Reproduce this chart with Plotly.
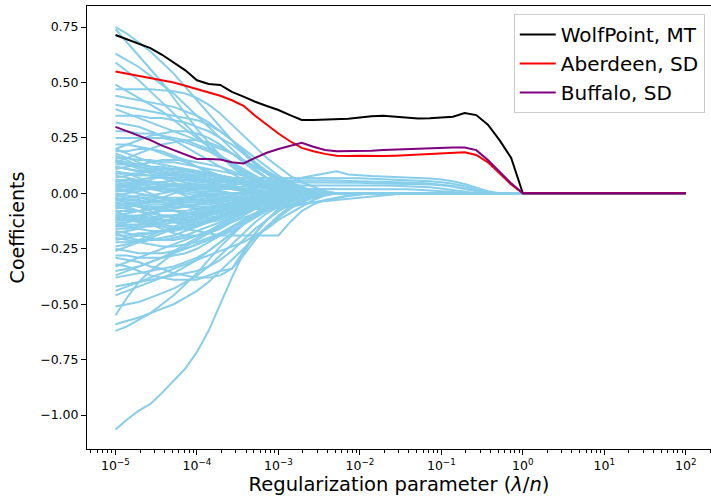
import plotly.graph_objects as go

# regularization grid (lambda / n)
lam = [1.000e-05, 1.389e-05, 1.931e-05, 2.683e-05, 3.728e-05, 5.179e-05, 7.197e-05,
       1.000e-04, 1.389e-04, 1.931e-04, 2.683e-04, 3.728e-04, 5.179e-04, 7.197e-04,
       1.000e-03, 1.389e-03, 1.931e-03, 2.683e-03, 3.728e-03, 5.179e-03, 7.197e-03,
       1.000e-02, 1.389e-02, 1.931e-02, 2.683e-02, 3.728e-02, 5.179e-02, 7.197e-02,
       1.000e-01, 1.389e-01, 1.931e-01, 2.683e-01, 3.728e-01, 5.179e-01, 7.197e-01,
       1.000e+00, 1.389e+00, 1.931e+00, 2.683e+00, 3.728e+00, 5.179e+00, 7.197e+00,
       1.000e+01, 1.389e+01, 1.931e+01, 2.683e+01, 3.728e+01, 5.179e+01, 7.197e+01,
       1.000e+02]

# highlighted stations (values until they reach zero; zero afterwards)
wolf_point = [0.714, 0.695, 0.675, 0.655, 0.625, 0.59, 0.555, 0.51, 0.493, 0.489, 0.458,
              0.436, 0.413, 0.394, 0.376, 0.353, 0.331, 0.331, 0.332, 0.334, 0.336, 0.342,
              0.348, 0.35, 0.346, 0.341, 0.338, 0.339, 0.341, 0.346, 0.362, 0.353, 0.31,
              0.24, 0.16, 0.0]
aberdeen = [0.55, 0.54, 0.53, 0.52, 0.51, 0.50, 0.485, 0.47, 0.455, 0.44, 0.42, 0.395,
            0.35, 0.31, 0.27, 0.235, 0.205, 0.19, 0.178, 0.17, 0.168, 0.17, 0.168, 0.168,
            0.17, 0.172, 0.175, 0.177, 0.179, 0.182, 0.185, 0.173, 0.14, 0.09, 0.04, 0.0]
buffalo = [0.30, 0.28, 0.26, 0.24, 0.215, 0.195, 0.175, 0.155, 0.155, 0.153, 0.14, 0.135,
           0.16, 0.183, 0.20, 0.215, 0.228, 0.21, 0.196, 0.19, 0.19, 0.192, 0.192, 0.195,
           0.197, 0.20, 0.203, 0.204, 0.205, 0.207, 0.207, 0.195, 0.15, 0.097, 0.045, 0.0]

# all other stations
others = [
    # upper
    [0.75, 0.72, 0.68, 0.64, 0.59, 0.54, 0.48, 0.42, 0.36, 0.30, 0.24, 0.18, 0.13, 0.09, 0.05, 0.03, 0.01],
    [0.74, 0.68, 0.62, 0.56, 0.50, 0.43, 0.36, 0.29, 0.23, 0.17, 0.12, 0.08, 0.05, 0.03, 0.01],
    [0.63, 0.60, 0.57, 0.53, 0.49, 0.45, 0.40, 0.35, 0.30, 0.25, 0.20, 0.15, 0.11, 0.07, 0.04, 0.02],
    [0.59, 0.55, 0.51, 0.46, 0.41, 0.36, 0.31, 0.26, 0.21, 0.17, 0.13, 0.09, 0.06, 0.03, 0.01],
    [0.47, 0.47, 0.47, 0.47, 0.465, 0.46, 0.45, 0.43, 0.40, 0.36, 0.31, 0.26, 0.21, 0.16, 0.12, 0.08, 0.05, 0.03, 0.01],
    [0.49, 0.46, 0.43, 0.40, 0.37, 0.33, 0.29, 0.25, 0.21, 0.17, 0.13, 0.10, 0.07, 0.04, 0.02],
    [0.44, 0.43, 0.42, 0.41, 0.40, 0.39, 0.37, 0.35, 0.32, 0.28, 0.24, 0.20, 0.16, 0.12, 0.08, 0.05, 0.03, 0.01],
    [0.40, 0.39, 0.38, 0.37, 0.36, 0.35, 0.34, 0.33, 0.31, 0.28, 0.24, 0.19, 0.14, 0.10, 0.07, 0.04, 0.02],
    [0.38, 0.36, 0.34, 0.32, 0.30, 0.28, 0.26, 0.24, 0.22, 0.20, 0.18, 0.15, 0.12, 0.09, 0.06, 0.03, 0.01],
    [0.35, 0.35, 0.35, 0.34, 0.34, 0.33, 0.32, 0.30, 0.28, 0.25, 0.22, 0.18, 0.14, 0.10, 0.07, 0.04, 0.02],
    [0.32, 0.31, 0.30, 0.28, 0.26, 0.24, 0.21, 0.18, 0.15, 0.12, 0.09, 0.06, 0.04, 0.02],
    [0.28, 0.28, 0.27, 0.27, 0.26, 0.25, 0.24, 0.22, 0.20, 0.17, 0.14, 0.11, 0.08, 0.05, 0.03, 0.01],
    [0.25, 0.25, 0.25, 0.25, 0.25, 0.24, 0.23, 0.21, 0.19, 0.16, 0.13, 0.10, 0.07, 0.05, 0.03, 0.01],
    [0.20, 0.22, 0.24, 0.26, 0.27, 0.28, 0.28, 0.27, 0.25, 0.22, 0.18, 0.14, 0.10, 0.07, 0.04, 0.02],
    [0.14, 0.16, 0.18, 0.20, 0.22, 0.23, 0.24, 0.24, 0.23, 0.21, 0.18, 0.15, 0.12, 0.09, 0.06, 0.04, 0.02, 0.01],
    # dense centre
    [0.22, 0.22, 0.21, 0.20, 0.18, 0.16, 0.14, 0.12, 0.10, 0.08, 0.06, 0.04, 0.03, 0.02, 0.01],
    [0.20, 0.18, 0.16, 0.14, 0.13, 0.12, 0.11, 0.10, 0.09, 0.08, 0.07, 0.05, 0.04, 0.03, 0.02, 0.01],
    [0.19, 0.19, 0.20, 0.20, 0.19, 0.17, 0.15, 0.12, 0.09, 0.06, 0.04, 0.02, 0.01],
    [0.17, 0.15, 0.12, 0.10, 0.08, 0.06, 0.05, 0.04, 0.04, 0.03, 0.03, 0.02, 0.02, 0.01],
    [0.16, 0.16, 0.15, 0.15, 0.14, 0.14, 0.13, 0.12, 0.11, 0.10, 0.09, 0.08, 0.06, 0.05, 0.04, 0.03, 0.02, 0.01],
    [0.15, 0.13, 0.11, 0.09, 0.07, 0.05, 0.03, 0.01, -0.01, -0.02, -0.02, -0.02, -0.01],
    [0.13, 0.13, 0.12, 0.11, 0.10, 0.09, 0.08, 0.07, 0.06, 0.05, 0.05, 0.04, 0.04, 0.03, 0.03, 0.02, 0.01],
    [0.12, 0.11, 0.10, 0.10, 0.09, 0.08, 0.07, 0.06, 0.05, 0.04, 0.03, 0.02, 0.01],
    [0.11, 0.12, 0.13, 0.14, 0.15, 0.15, 0.15, 0.14, 0.13, 0.12, 0.10, 0.08, 0.06, 0.05, 0.04, 0.03, 0.02, 0.01],
    [0.10, 0.09, 0.07, 0.05, 0.03, 0.01, -0.01, -0.03, -0.04, -0.05, -0.05, -0.04, -0.03, -0.02, -0.01],
    [0.09, 0.09, 0.09, 0.08, 0.08, 0.08, 0.07, 0.07, 0.06, 0.06, 0.05, 0.05, 0.04, 0.04, 0.03, 0.03, 0.02, 0.02, 0.01],
    [0.08, 0.07, 0.06, 0.05, 0.05, 0.04, 0.04, 0.03, 0.03, 0.02, 0.02, 0.01],
    [0.07, 0.08, 0.09, 0.10, 0.11, 0.11, 0.11, 0.10, 0.09, 0.08, 0.07, 0.06, 0.05, 0.04, 0.03, 0.02, 0.01],
    [0.06, 0.05, 0.04, 0.03, 0.02, 0.01, 0.0, -0.01, -0.01, -0.01],
    [0.05, 0.06, 0.06, 0.07, 0.07, 0.07, 0.06, 0.06, 0.05, 0.04, 0.03, 0.02, 0.01],
    [0.04, 0.03, 0.02, 0.02, 0.01, 0.01, 0.01],
    [0.03, 0.04, 0.05, 0.06, 0.08, 0.09, 0.10, 0.10, 0.09, 0.08, 0.06, 0.05, 0.04, 0.03, 0.02, 0.01],
    [0.02, 0.01, 0.00, -0.01, -0.02, -0.03, -0.03, -0.03, -0.02, -0.02, -0.01],
    [0.01, 0.02, 0.02, 0.03, 0.03, 0.03, 0.03, 0.02, 0.02, 0.01],
    [0.00, -0.01, -0.02, -0.03, -0.04, -0.05, -0.05, -0.05, -0.04, -0.03, -0.02, -0.01],
    [-0.01, 0.00, 0.01, 0.02, 0.03, 0.04, 0.04, 0.04, 0.03, 0.03, 0.02, 0.01],
    [-0.02, -0.03, -0.03, -0.04, -0.04, -0.04, -0.03, -0.03, -0.02, -0.02, -0.01],
    [-0.03, -0.02, -0.01, -0.01, 0.00, 0.01, 0.02, 0.03, 0.03, 0.02, 0.02, 0.01],
    [-0.04, -0.05, -0.06, -0.07, -0.08, -0.08, -0.08, -0.07, -0.06, -0.05, -0.04, -0.03, -0.02, -0.01],
    [-0.05, -0.05, -0.04, -0.04, -0.03, -0.03, -0.02, -0.02, -0.01],
    [-0.06, -0.07, -0.08, -0.09, -0.10, -0.10, -0.10, -0.09, -0.08, -0.07, -0.06, -0.05, -0.04, -0.03, -0.02, -0.01],
    [-0.07, -0.06, -0.05, -0.03, -0.02, 0.00, 0.01, 0.02, 0.03, 0.03, 0.03, 0.02, 0.02, 0.01],
    [-0.08, -0.08, -0.08, -0.07, -0.07, -0.06, -0.06, -0.05, -0.05, -0.04, -0.03, -0.03, -0.02, -0.01],
    [-0.09, -0.10, -0.11, -0.12, -0.12, -0.12, -0.11, -0.10, -0.08, -0.06, -0.05, -0.03, -0.02, -0.01],
    [-0.10, -0.09, -0.08, -0.07, -0.06, -0.05, -0.04, -0.04, -0.03, -0.03, -0.02, -0.02, -0.01],
    [-0.11, -0.12, -0.13, -0.14, -0.15, -0.16, -0.16, -0.15, -0.13, -0.11, -0.09, -0.07, -0.05, -0.03, -0.02, -0.01],
    [-0.12, -0.11, -0.10, -0.09, -0.08, -0.07, -0.06, -0.05, -0.04, -0.04, -0.03, -0.03, -0.02, -0.02, -0.01],
    [-0.13, -0.13, -0.12, -0.12, -0.11, -0.10, -0.09, -0.08, -0.07, -0.06, -0.05, -0.04, -0.03, -0.02, -0.01],
    [-0.14, -0.15, -0.16, -0.17, -0.17, -0.17, -0.16, -0.14, -0.12, -0.10, -0.08, -0.06, -0.04, -0.03, -0.02, -0.01],
    [-0.15, -0.13, -0.11, -0.09, -0.07, -0.05, -0.03, -0.01, 0.01, 0.02, 0.02, 0.02, 0.01],
    [-0.16, -0.16, -0.15, -0.15, -0.14, -0.13, -0.12, -0.11, -0.10, -0.08, -0.07, -0.05, -0.04, -0.03, -0.02, -0.01],
    [-0.17, -0.18, -0.19, -0.20, -0.21, -0.21, -0.20, -0.19, -0.17, -0.14, -0.11, -0.08, -0.06, -0.04, -0.02, -0.01],
    [-0.18, -0.17, -0.16, -0.14, -0.13, -0.11, -0.10, -0.08, -0.07, -0.06, -0.05, -0.04, -0.03, -0.02, -0.01],
    [-0.19, -0.19, -0.18, -0.18, -0.17, -0.16, -0.15, -0.14, -0.12, -0.10, -0.08, -0.06, -0.05, -0.03, -0.02, -0.01],
    [-0.20, -0.21, -0.22, -0.23, -0.24, -0.24, -0.23, -0.22, -0.20, -0.18, -0.15, -0.12, -0.09, -0.06, -0.04, -0.02, -0.01],
    [-0.21, -0.20, -0.19, -0.18, -0.17, -0.16, -0.15, -0.13, -0.12, -0.10, -0.09, -0.07, -0.05, -0.04, -0.02, -0.01],
    [-0.22, -0.22, -0.22, -0.21, -0.21, -0.20, -0.19, -0.17, -0.15, -0.13, -0.11, -0.09, -0.07, -0.05, -0.03, -0.02, -0.01],
    [-0.24, -0.23, -0.21, -0.19, -0.17, -0.15, -0.13, -0.11, -0.09, -0.07, -0.06, -0.05, -0.04, -0.03, -0.02, -0.01],
    [0.03, 0.03, 0.03, 0.02, 0.02, 0.02, 0.02, 0.01, 0.01, 0.01],
    [-0.03, -0.04, -0.04, -0.05, -0.05, -0.05, -0.04, -0.04, -0.03, -0.03, -0.02, -0.02, -0.01],
    [0.02, 0.03, 0.04, 0.05, 0.05, 0.06, 0.06, 0.05, 0.05, 0.04, 0.03, 0.02, 0.01],
    [-0.01, -0.02, -0.02, -0.02, -0.02, -0.02, -0.02, -0.01, -0.01],
    [0.14, 0.13, 0.13, 0.12, 0.12, 0.11, 0.10, 0.09, 0.08, 0.07, 0.06, 0.05, 0.04, 0.03, 0.02, 0.01],
    [0.18, 0.16, 0.14, 0.12, 0.10, 0.09, 0.08, 0.07, 0.06, 0.05, 0.05, 0.04, 0.04, 0.03, 0.03, 0.02, 0.02, 0.01],
    [-0.04, -0.06, -0.08, -0.10, -0.12, -0.13, -0.14, -0.14, -0.13, -0.12, -0.10, -0.08, -0.06, -0.04, -0.02, -0.01],
    [-0.13, -0.14, -0.14, -0.14, -0.13, -0.12, -0.11, -0.10, -0.09, -0.08, -0.07, -0.06, -0.05, -0.04, -0.03, -0.02, -0.01],
    [-0.06, -0.05, -0.05, -0.06, -0.07, -0.08, -0.09, -0.10, -0.10, -0.09, -0.08, -0.06, -0.04, -0.02, -0.01],
    [-0.02, -0.04, -0.06, -0.08, -0.10, -0.11, -0.12, -0.12, -0.11, -0.10, -0.09, -0.07, -0.05, -0.03, -0.02, -0.01],
    [-0.15, -0.15, -0.14, -0.13, -0.12, -0.12, -0.11, -0.10, -0.09, -0.08, -0.07, -0.06, -0.05, -0.04, -0.03, -0.02, -0.01],
    [-0.18, -0.20, -0.21, -0.21, -0.20, -0.19, -0.17, -0.15, -0.13, -0.11, -0.09, -0.07, -0.05, -0.03, -0.02, -0.01],
    [-0.08, -0.10, -0.12, -0.14, -0.16, -0.18, -0.19, -0.19, -0.18, -0.16, -0.13, -0.10, -0.07, -0.05, -0.03, -0.01],
    [0.05, 0.04, 0.02, 0.00, -0.02, -0.04, -0.06, -0.07, -0.07, -0.06, -0.05, -0.04, -0.03, -0.02, -0.01],
    [-0.11, -0.10, -0.10, -0.11, -0.12, -0.13, -0.13, -0.13, -0.12, -0.11, -0.09, -0.07, -0.05, -0.03, -0.02, -0.01],
    # long-lived small coefficients
    [0.06, 0.06, 0.05, 0.05, 0.04, 0.04, 0.03, 0.03, 0.02, 0.02, 0.02, 0.02, 0.03, 0.03, 0.04, 0.05, 0.07, 0.08, 0.09, 0.10, 0.085, 0.08, 0.078, 0.076, 0.074, 0.072, 0.07, 0.067, 0.062, 0.055, 0.042, 0.025, 0.01],
    [0.12, 0.11, 0.10, 0.10, 0.09, 0.09, 0.08, 0.08, 0.08, 0.08, 0.07, 0.07, 0.07, 0.07, 0.07, 0.07, 0.07, 0.07, 0.07, 0.07, 0.07, 0.068, 0.066, 0.064, 0.062, 0.06, 0.058, 0.055, 0.05, 0.043, 0.032, 0.018, 0.005],
    [0.09, 0.09, 0.08, 0.08, 0.07, 0.07, 0.06, 0.06, 0.06, 0.06, 0.06, 0.06, 0.06, 0.06, 0.06, 0.06, 0.06, 0.06, 0.06, 0.058, 0.056, 0.055, 0.054, 0.053, 0.052, 0.05, 0.048, 0.045, 0.04, 0.033, 0.022, 0.01],
    [0.04, 0.04, 0.04, 0.04, 0.04, 0.04, 0.04, 0.04, 0.04, 0.04, 0.04, 0.045, 0.05, 0.05, 0.05, 0.05, 0.05, 0.05, 0.05, 0.05, 0.05, 0.048, 0.046, 0.045, 0.044, 0.043, 0.042, 0.04, 0.036, 0.03, 0.02, 0.01],
    [0.01, 0.01, 0.02, 0.02, 0.02, 0.02, 0.03, 0.03, 0.03, 0.03, 0.03, 0.03, 0.035, 0.035, 0.035, 0.035, 0.037, 0.038, 0.038, 0.038, 0.038, 0.037, 0.036, 0.035, 0.034, 0.032, 0.03, 0.027, 0.022, 0.015, 0.008],
    [0.15, 0.14, 0.13, 0.12, 0.11, 0.10, 0.09, 0.08, 0.07, 0.06, 0.05, 0.04, 0.03, 0.025, 0.022, 0.02, 0.02, 0.02, 0.02, 0.02, 0.02, 0.02, 0.02, 0.02, 0.019, 0.018, 0.016, 0.014, 0.01, 0.006],
    [-0.05, -0.05, -0.06, -0.06, -0.06, -0.06, -0.06, -0.06, -0.06, -0.06, -0.06, -0.06, -0.06, -0.06, -0.055, -0.05, -0.045, -0.04, -0.035, -0.03, -0.025, -0.02, -0.015, -0.01, -0.005],
    [-0.12, -0.12, -0.11, -0.11, -0.10, -0.10, -0.09, -0.09, -0.08, -0.08, -0.07, -0.07, -0.07, -0.07, -0.065, -0.06, -0.05, -0.04, -0.03, -0.02, -0.012, -0.006],
    [-0.10, -0.11, -0.12, -0.13, -0.14, -0.15, -0.16, -0.17, -0.18, -0.19, -0.19, -0.19, -0.19, -0.19, -0.19, -0.13, -0.08, -0.05, -0.03, -0.02, -0.01],
    # lower
    [-0.25, -0.26, -0.27, -0.27, -0.27, -0.26, -0.25, -0.23, -0.21, -0.18, -0.15, -0.12, -0.09, -0.06, -0.04, -0.02, -0.01],
    [-0.26, -0.24, -0.22, -0.20, -0.18, -0.16, -0.14, -0.12, -0.10, -0.08, -0.06, -0.05, -0.04, -0.03, -0.02, -0.01],
    [-0.28, -0.28, -0.29, -0.29, -0.29, -0.28, -0.27, -0.25, -0.22, -0.19, -0.16, -0.13, -0.10, -0.07, -0.05, -0.03, -0.01],
    [-0.29, -0.30, -0.31, -0.33, -0.34, -0.36, -0.37, -0.38, -0.38, -0.37, -0.34, -0.28, -0.21, -0.15, -0.10, -0.06, -0.03, -0.01],
    [-0.32, -0.33, -0.35, -0.37, -0.38, -0.39, -0.39, -0.39, -0.37, -0.35, -0.34, -0.26, -0.18, -0.12, -0.07, -0.04, -0.02, -0.01],
    [-0.33, -0.31, -0.29, -0.27, -0.25, -0.23, -0.21, -0.19, -0.17, -0.15, -0.13, -0.11, -0.09, -0.07, -0.05, -0.03, -0.02, -0.01],
    [-0.35, -0.34, -0.33, -0.31, -0.29, -0.26, -0.23, -0.20, -0.17, -0.14, -0.11, -0.08, -0.06, -0.04, -0.02, -0.01],
    [-0.37, -0.35, -0.33, -0.31, -0.29, -0.27, -0.25, -0.23, -0.21, -0.19, -0.17, -0.14, -0.11, -0.08, -0.05, -0.03, -0.01],
    [-0.38, -0.37, -0.36, -0.35, -0.34, -0.33, -0.31, -0.29, -0.26, -0.22, -0.18, -0.14, -0.10, -0.07, -0.04, -0.02, -0.01],
    [-0.42, -0.41, -0.40, -0.39, -0.38, -0.37, -0.36, -0.35, -0.33, -0.30, -0.26, -0.21, -0.16, -0.12, -0.08, -0.05, -0.03, -0.01],
    [-0.44, -0.42, -0.40, -0.38, -0.36, -0.34, -0.32, -0.30, -0.28, -0.26, -0.24, -0.22, -0.19, -0.16, -0.12, -0.09, -0.06, -0.03, -0.01],
    [-0.46, -0.44, -0.42, -0.40, -0.38, -0.36, -0.33, -0.30, -0.26, -0.22, -0.18, -0.14, -0.10, -0.07, -0.04, -0.02, -0.01],
    [-0.51, -0.50, -0.49, -0.47, -0.45, -0.43, -0.40, -0.37, -0.33, -0.28, -0.23, -0.18, -0.13, -0.09, -0.06, -0.03, -0.01],
    [-0.55, -0.47, -0.40, -0.35, -0.31, -0.27, -0.24, -0.21, -0.18, -0.15, -0.12, -0.09, -0.07, -0.05, -0.03, -0.02, -0.01],
    [-0.59, -0.575, -0.56, -0.54, -0.52, -0.50, -0.47, -0.44, -0.40, -0.35, -0.30, -0.25, -0.20, -0.15, -0.11, -0.07, -0.04, -0.02, -0.01],
    [-0.62, -0.60, -0.57, -0.54, -0.50, -0.46, -0.41, -0.36, -0.30, -0.24, -0.19, -0.14, -0.10, -0.07, -0.04, -0.02, -0.01],
    [-1.065, -1.02, -0.98, -0.95, -0.90, -0.845, -0.79, -0.715, -0.62, -0.50, -0.38, -0.27, -0.18, -0.12, -0.08, -0.05, -0.03, -0.015, -0.005],
]

x_tick_vals = [1e-5, 1e-4, 1e-3, 1e-2, 1e-1, 1e0, 1e1, 1e2]
x_tick_text = ["10<sup>−5</sup>", "10<sup>−4</sup>", "10<sup>−3</sup>", "10<sup>−2</sup>",
               "10<sup>−1</sup>", "10<sup>0</sup>", "10<sup>1</sup>", "10<sup>2</sup>"]
y_tick_vals = [-1.0, -0.75, -0.5, -0.25, 0.0, 0.25, 0.5, 0.75]
y_tick_text = ["−1.00", "−0.75", "−0.50", "−0.25", "0.00", "0.25", "0.50", "0.75"]

n = len(lam)


def pad(v):
    return list(v) + [0.0] * (n - len(v))


fig = go.Figure()
for s in others:
    fig.add_trace(go.Scatter(x=lam, y=pad(s), mode="lines", showlegend=False,
                             line=dict(color="#87CEEB", width=2), hoverinfo="skip"))

for name, s, c in [("WolfPoint, MT", wolf_point, "black"),
                   ("Aberdeen, SD", aberdeen, "red"),
                   ("Buffalo, SD", buffalo, "purple")]:
    fig.add_trace(go.Scatter(x=lam, y=pad(s), mode="lines", name=name,
                             line=dict(color=c, width=2)))

minor_vals = [m * 10.0 ** e for e in range(-6, 3) for m in range(2, 10)]

fig.update_layout(
    width=711, height=500,
    margin=dict(l=87, r=0, t=6, b=51, autoexpand=False),
    paper_bgcolor="white", plot_bgcolor="white",
    font=dict(family="DejaVu Sans", color="black"),
    showlegend=True,
    legend=dict(x=0.99, y=0.982, xanchor="right", yanchor="top",
                bgcolor="rgba(255,255,255,0.8)", bordercolor="#cccccc", borderwidth=1,
                font=dict(size=20, family="DejaVu Sans"), tracegroupgap=0,
                itemwidth=36),
    xaxis=dict(type="log", range=[-5.35, 2.31], tickvals=x_tick_vals, ticktext=x_tick_text,
               ticks="outside", ticklen=5, tickcolor="black", showgrid=False, zeroline=False,
               showline=True, linecolor="black", linewidth=1, mirror=True,
               tickfont=dict(size=12.5),
               minor=dict(tickvals=minor_vals, ticks="outside", ticklen=3, tickcolor="black",
                          showgrid=False),
               title=dict(text="Regularization parameter (<i>λ</i>/<i>n</i>)",
                          font=dict(size=19.5), standoff=2)),
    yaxis=dict(range=[-1.153, 0.845], tickvals=y_tick_vals, ticktext=y_tick_text,
               ticks="outside", ticklen=5, tickcolor="black", showgrid=False, zeroline=False,
               showline=True, linecolor="black", linewidth=1, mirror=False,
               tickfont=dict(size=12.5),
               title=dict(text="Coefficients", font=dict(size=19), standoff=10)),
)

fig.write_html("out.html", config={"displayModeBar": False},
               post_script="document.body.style.margin='0';document.body.style.overflow='hidden';")
